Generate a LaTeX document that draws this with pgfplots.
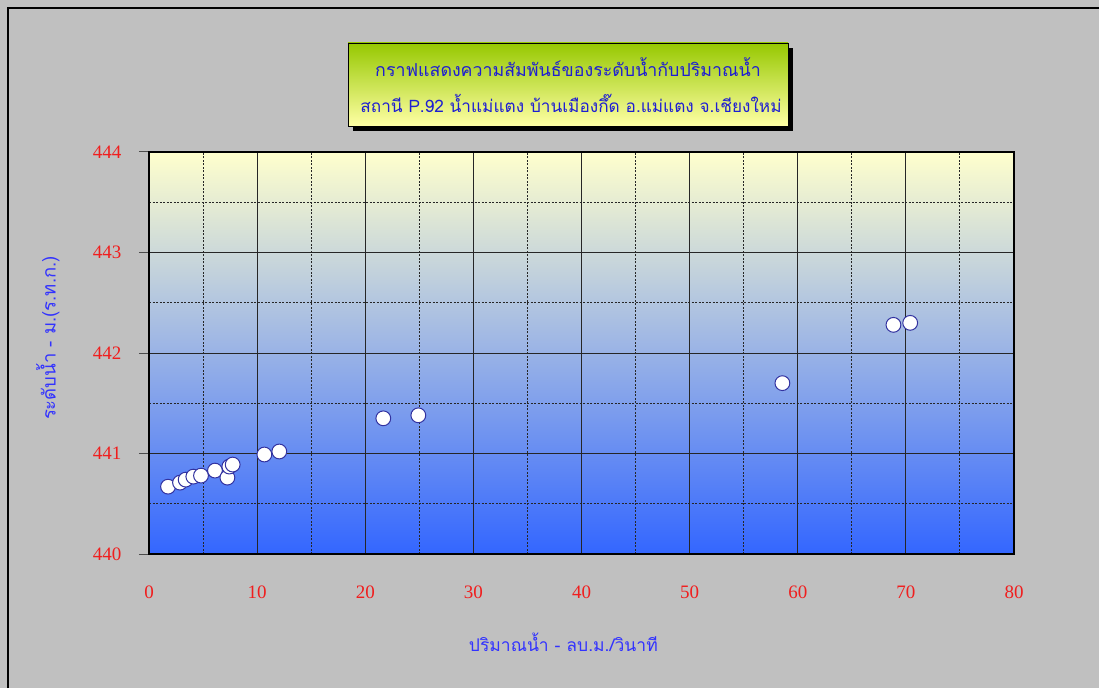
\documentclass[border=0pt]{standalone}
\usepackage{pgfplots}
\pgfplotsset{compat=1.18}
\usepackage{fontspec}
\setmainfont{Liberation Serif}
\newfontfamily\thaifont[Script=Thai]{Loma}
\definecolor{bg}{RGB}{192,192,192}
\definecolor{tickred}{RGB}{240,30,30}
\definecolor{labblue}{RGB}{50,50,255}
\definecolor{titleblue}{RGB}{30,30,210}
\definecolor{topyel}{RGB}{255,255,205}
\definecolor{midgray}{RGB}{212,215,234}
\definecolor{botblue}{RGB}{51,102,255}
\definecolor{markedge}{RGB}{50,50,160}
\definecolor{ttop}{RGB}{150,200,0}
\definecolor{tbot}{RGB}{255,255,165}
\begin{document}
\begin{tikzpicture}[x=1pt,y=1pt]
\fill[bg] (0,0) rectangle (1099,688);
\useasboundingbox (0,0) rectangle (1099,688);
\draw[black,line width=2pt] (8,0) -- (8,680) -- (1099,680);
% title box
\fill[black] (353,557) rectangle (793,640);
\shade[top color=ttop,bottom color=tbot] (348,562) rectangle (788,645);
\draw[black,line width=0.8pt] (348,562) rectangle (788,645);
\node[text=titleblue,font=\thaifont\fontsize{17.8}{21}\selectfont] at (568,621) {กราฟแสดงความสัมพันธ์ของระดับน้ำกับปริมาณน้ำ};
\node[text=titleblue,font=\thaifont\fontsize{17.2}{21}\selectfont] at (571,585) {สถานี P.92 น้ำแม่แตง บ้านเมืองกึ๊ด อ.แม่แตง จ.เชียงใหม่};
\begin{axis}[
  at={(149pt,134pt)}, anchor=south west,
  scale only axis, width=865pt, height=402pt,
  xmin=0, xmax=80, ymin=440, ymax=444,
  xtick={0,10,...,80}, ytick={440,441,...,444},
  minor xtick={5,15,...,75}, minor ytick={440.5,441.5,442.5,443.5},
  xtick pos=bottom, ytick pos=left,
  grid=both,
  major grid style={black!85, line width=0.9pt},
  minor grid style={black!85, line width=0.9pt, dash pattern=on 2pt off 1.5pt},
  axis line style={black, line width=2pt},
  axis background/.style={top color=topyel, middle color=midgray, bottom color=botblue},
  tick align=outside,
  major tick length=10pt, minor tick length=0pt,
  xtick style={/pgfplots/major tick length=0pt},
  ytick style={black!70, line width=1pt},
  /pgf/number format/assume math mode=true,
  ticklabel style={font=\fontsize{19}{22}\selectfont, text=tickred},
  yticklabel style={xshift=-14pt},
  xticklabel style={yshift=-18pt},
  xlabel={ปริมาณน้ำ - ลบ.ม./วินาที},
  ylabel={ระดับน้ำ - ม.(ร.ท.ก.)},
  every axis x label/.style={at={(axis description cs:0.479,-0.219)}, anchor=center, text=labblue, font=\thaifont\fontsize{17.5}{21}\selectfont},
  every axis y label/.style={at={(axis description cs:-0.117,0.537)}, anchor=center, rotate=90, text=labblue, font=\thaifont\fontsize{18.5}{22}\selectfont},
]
\addplot[only marks, mark=*, mark size=7.4pt, mark options={fill=white, draw=markedge, line width=1pt}] coordinates {
(1.76,440.67) (2.87,440.71) (3.39,440.74) (4.10,440.77) (4.81,440.78)
(6.10,440.83) (7.25,440.76) (7.43,440.87) (7.74,440.89) (10.67,440.99)
(12.05,441.02) (21.67,441.35) (24.91,441.38) (58.58,441.70) (68.85,442.28)
(70.40,442.30)
};
\end{axis}
\end{tikzpicture}
\end{document}
